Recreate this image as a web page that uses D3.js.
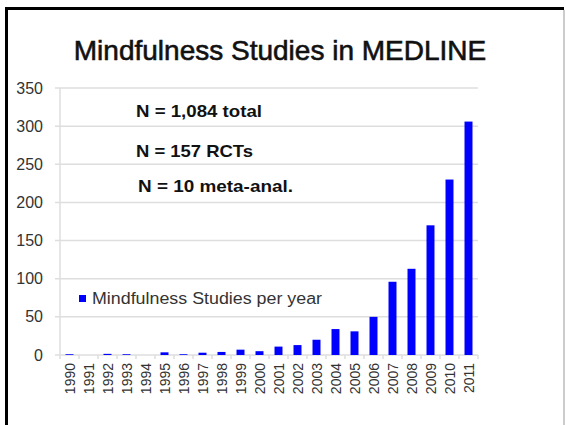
<!DOCTYPE html>
<html>
<head>
<meta charset="utf-8">
<script src="https://cdn.jsdelivr.net/npm/d3@7"></script>
<style>
  body { margin: 0; background: #fff; }
  svg { display: block; }
</style>
</head>
<body>
<svg id="chart" width="566" height="425"></svg>
<script>
// studies per year
var years = ["1990","1991","1992","1993","1994","1995","1996","1997","1998","1999","2000",
             "2001","2002","2003","2004","2005","2006","2007","2008","2009","2010","2011"];
var studies = [1, 0, 1.5, 1, 0, 3.5, 1, 3, 4, 7, 5, 11, 13, 20, 34, 31, 50, 96, 113, 170, 230, 306];
var yTicks = [0, 50, 100, 150, 200, 250, 300, 350];
var notes = ["N = 1,084 total", "N = 157 RCTs", "N = 10 meta-anal."];
var legendLabel = "Mindfulness Studies per year";

var font = 'Liberation Sans, Arial, sans-serif';
var svg = d3.select('#chart');

// slide frame
svg.append('line').attr('x1', 5).attr('x2', 564).attr('y1', 8.5).attr('y2', 8.5)
    .attr('stroke', '#000').attr('stroke-width', 3);
svg.append('line').attr('x1', 6.5).attr('x2', 6.5).attr('y1', 7).attr('y2', 425)
    .attr('stroke', '#000').attr('stroke-width', 3);
svg.append('line').attr('x1', 564).attr('x2', 564).attr('y1', 10).attr('y2', 425)
    .attr('stroke', '#999').attr('stroke-width', 1);

svg.append('text')
    .attr('x', 280).attr('y', 60)
    .attr('text-anchor', 'middle')
    .attr('font-family', font)
    .attr('font-size', 28)
    .attr('fill', '#111')
    .attr('stroke', '#111')
    .attr('stroke-width', 0.6)
    .text('Mindfulness Studies in MEDLINE');

var x = d3.scaleBand().domain(years).range([60, 478]).paddingInner(0.58).paddingOuter(0.29);
var y = d3.scaleLinear().domain([0, 350]).range([355, 88]);

// gridlines
svg.append('g').selectAll('line')
    .data(yTicks)
    .enter()
    .append('line')
    .attr('x1', 55).attr('x2', 478)
    .attr('y1', function(d){ return y(d); })
    .attr('y2', function(d){ return y(d); })
    .attr('stroke', '#dedede')
    .attr('stroke-width', 1.5);

// y axis line
svg.append('line').attr('x1', 60).attr('x2', 60).attr('y1', y(350)).attr('y2', y(0))
    .attr('stroke', '#dedede').attr('stroke-width', 1.5);

// y labels
svg.append('g').selectAll('text')
    .data(yTicks)
    .enter()
    .append('text')
    .attr('x', 43)
    .attr('y', function(d){ return y(d) + 5.5; })
    .attr('text-anchor', 'end')
    .attr('font-family', font)
    .attr('font-size', 16)
    .attr('fill', '#333')
    .text(function(d){ return d; });

// x tick marks between categories
var step = x.step();
var edges = years.map(function(d){ return x(d) + x.bandwidth() / 2 - step / 2; });
edges.push(edges[edges.length - 1] + step);
svg.append('g').selectAll('line')
    .data(edges)
    .enter()
    .append('line')
    .attr('x1', function(d){ return d; })
    .attr('x2', function(d){ return d; })
    .attr('y1', y(0)).attr('y2', y(0) + 4)
    .attr('stroke', '#dedede')
    .attr('stroke-width', 1.5);

// bars
svg.append('g').selectAll('rect')
    .data(studies)
    .enter()
    .append('rect')
    .attr('x', function(d, i){ return x(years[i]); })
    .attr('y', function(d){ return y(d); })
    .attr('width', x.bandwidth())
    .attr('height', function(d){ return y(0) - y(d); })
    .attr('fill', '#0000ff');

// x labels
svg.append('g').selectAll('text')
    .data(years)
    .enter()
    .append('text')
    .attr('transform', function(d){
        return 'translate(' + (x(d) + x.bandwidth() / 2 + 5) + ',363) rotate(-90)';
    })
    .attr('text-anchor', 'end')
    .attr('font-family', font)
    .attr('font-size', 14)
    .attr('fill', '#333')
    .text(function(d){ return d; });

// annotations
var noteX = [136, 136, 138];
var noteY = [117, 157, 192];
var noteW = [126, 117, 155];
svg.append('g').selectAll('text')
    .data(notes)
    .enter()
    .append('text')
    .attr('x', function(d, i){ return noteX[i]; })
    .attr('y', function(d, i){ return noteY[i]; })
    .attr('font-family', font)
    .attr('font-weight', 'bold')
    .attr('font-size', 17)
    .attr('textLength', function(d, i){ return noteW[i]; })
    .attr('lengthAdjust', 'spacingAndGlyphs')
    .attr('fill', '#111')
    .text(function(d){ return d; });

// legend
svg.append('rect').attr('x', 79).attr('y', 295).attr('width', 7).attr('height', 7).attr('fill', '#0000ff');
svg.append('text')
    .attr('x', 92).attr('y', 303.5)
    .attr('font-family', font)
    .attr('font-size', 16)
    .attr('textLength', 230)
    .attr('lengthAdjust', 'spacingAndGlyphs')
    .attr('fill', '#333')
    .text(legendLabel);
</script>
</body>
</html>
